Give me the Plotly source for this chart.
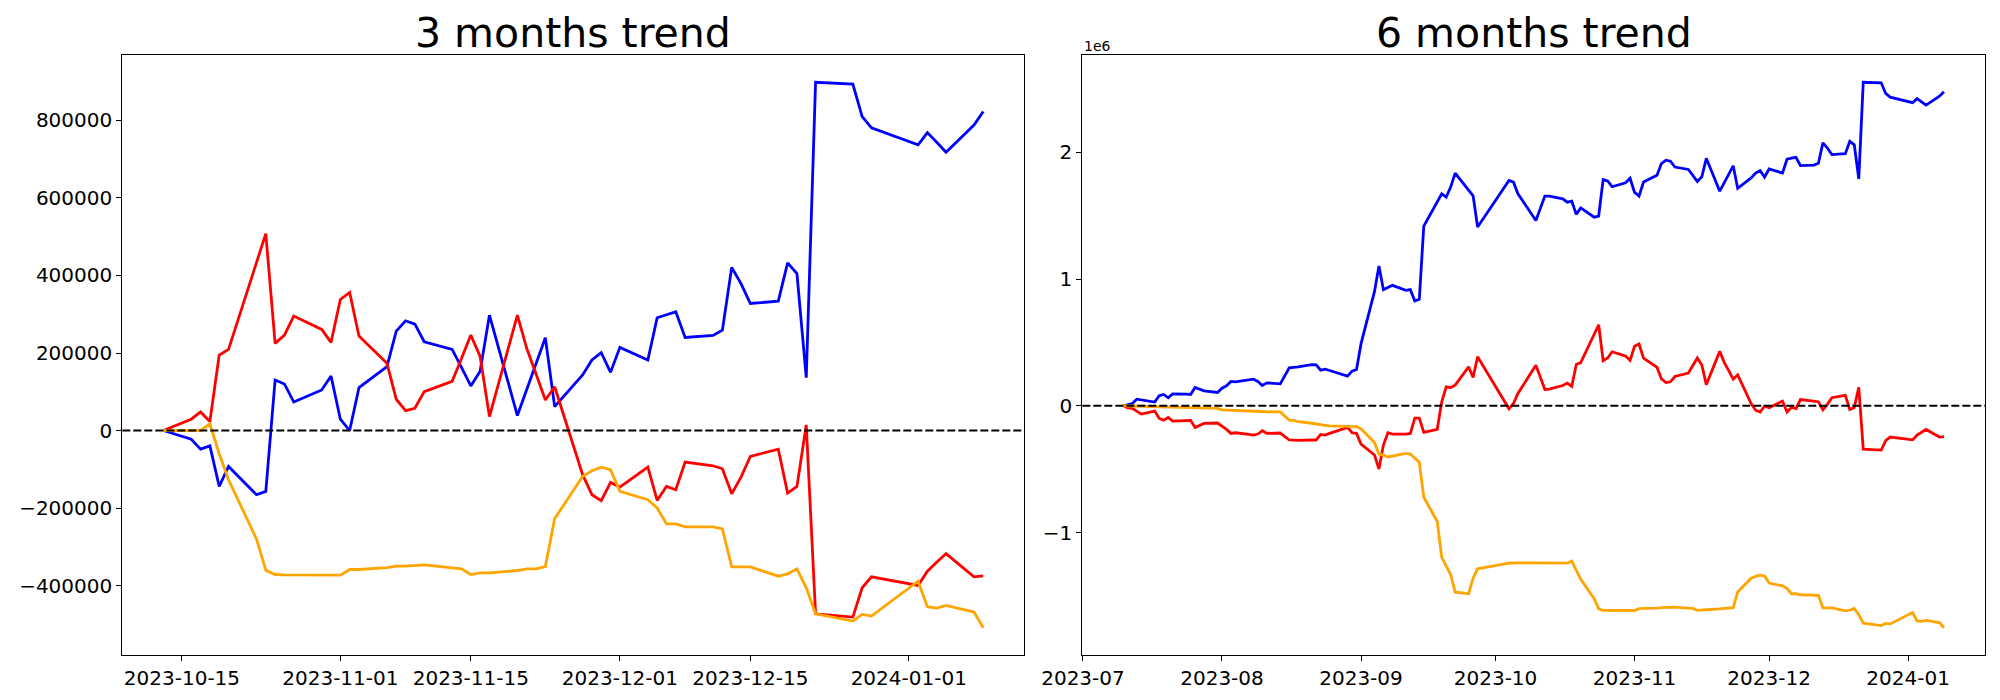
import pandas as pd
import plotly.graph_objects as go

# ---------------- data ----------------
dates_3m = [
    "2023-10-13", "2023-10-16", "2023-10-17", "2023-10-18", "2023-10-19", "2023-10-20",
    "2023-10-23", "2023-10-24", "2023-10-25", "2023-10-26", "2023-10-27", "2023-10-30", "2023-10-31",
    "2023-11-01", "2023-11-02", "2023-11-03", "2023-11-06", "2023-11-07", "2023-11-08", "2023-11-09",
    "2023-11-10", "2023-11-13", "2023-11-14", "2023-11-15", "2023-11-16", "2023-11-17", "2023-11-20",
    "2023-11-21", "2023-11-22", "2023-11-23", "2023-11-24", "2023-11-27", "2023-11-28", "2023-11-29",
    "2023-11-30",
    "2023-12-01", "2023-12-04", "2023-12-05", "2023-12-06", "2023-12-07", "2023-12-08", "2023-12-11",
    "2023-12-12", "2023-12-13", "2023-12-14", "2023-12-15", "2023-12-18", "2023-12-19", "2023-12-20",
    "2023-12-21", "2023-12-22", "2023-12-26", "2023-12-27", "2023-12-28",
    "2024-01-02", "2024-01-03", "2024-01-04", "2024-01-05", "2024-01-08", "2024-01-09",
]
blue_3m = [
    0, -22300, -48000, -39500, -144000, -92700, -165600, -157000, 130400, 120100, 73800, 104700, 140700,
    29200, 0, 110700, 164700, 256500, 283100, 274600, 229100, 209400, 163000, 115000, 153000, 297700,
    38600, 105500, 172500, 239400, 61800, 143300, 181900, 200800, 150200,
    214500, 181900, 290900, 298600, 306300, 240200, 245400, 259100, 420400, 379200, 327800, 333800,
    432400, 405000, 136400, 898500, 894000, 810000, 780800,
    737000, 768800, 743900, 718200, 788000, 823200,
]
red_3m = [
    0, 29200, 48000, 23200, 194800, 209400, 433300, 508000, 224800, 246200, 295200, 260800, 227400,
    338100, 356100, 243700, 173300, 80700, 51500, 57500, 100400, 127000, 186000, 246200, 191000, 36000,
    297700, 212000, 146000, 78900, 113000, -114000, -165600, -181000, -133800,
    -145900, -94400, -180200, -144100, -152700, -81500, -90900, -98700, -163000, -120100, -66900, -48000,
    -161300, -144100, 14600, -472800, -481300, -405800, -377500,
    -399800, -362900, -339800, -317500, -377500, -375000,
]
orange_3m = [
    0, 0, 0, 17200, -60000, -127000, -279700, -360400, -371500, -372400, -372400, -372400, -373200,
    -373200, -358600, -358600, -353500, -350100, -350100, -349300, -346600, -354400, -357000, -371500,
    -367200, -367200, -361200, -357000, -357000, -350900, -227400, -118400, -103800, -94400, -101200,
    -157000, -178500, -199900, -241100, -241100, -248800, -248800, -254000, -351800, -351800, -351800,
    -375800, -369800, -356900, -405800, -472800, -491600, -474500, -478800,
    -388700, -454700, -458200, -451300, -468400, -508800,
]

dates_early = [
    "2023-07-10", "2023-07-11", "2023-07-12", "2023-07-13", "2023-07-14", "2023-07-17", "2023-07-18",
    "2023-07-19", "2023-07-20", "2023-07-21", "2023-07-24", "2023-07-25", "2023-07-26", "2023-07-27",
    "2023-07-28", "2023-07-31",
    "2023-08-01", "2023-08-02", "2023-08-03", "2023-08-04", "2023-08-07", "2023-08-08", "2023-08-09",
    "2023-08-10", "2023-08-11", "2023-08-14", "2023-08-16", "2023-08-17", "2023-08-18", "2023-08-21",
    "2023-08-22", "2023-08-23", "2023-08-24", "2023-08-25", "2023-08-28", "2023-08-29", "2023-08-30",
    "2023-08-31",
    "2023-09-01", "2023-09-04", "2023-09-05", "2023-09-06", "2023-09-07", "2023-09-08", "2023-09-11",
    "2023-09-12", "2023-09-13", "2023-09-14", "2023-09-15", "2023-09-18", "2023-09-19", "2023-09-20",
    "2023-09-21", "2023-09-22", "2023-09-25", "2023-09-26", "2023-09-27",
    "2023-10-04", "2023-10-05", "2023-10-06", "2023-10-10", "2023-10-11", "2023-10-12",
]
dates_6m = dates_early + dates_3m

blue_6m = [
    0, 8000, 18000, 52000, 47000, 29000, 79000, 89000, 63000, 94000, 92000, 89000, 144000, 134000,
    118000, 105000,
    139000, 157000, 192000, 189000, 202000, 210000, 192000, 160000, 181000, 173000, 299000, 302000,
    307000, 325000, 322000, 281000, 289000, 278000, 244000, 234000, 273000, 286000,
    488000, 900000, 1102000, 916000, 933000, 950000, 911000, 916000, 827000, 840000, 1417000, 1612000,
    1672000, 1646000, 1725000, 1835000, 1701000, 1656000, 1410000,
    1777000, 1764000, 1672000, 1462000, 1567000, 1654000,
    1654000, 1632000, 1606000, 1614000, 1510000, 1561000, 1488000, 1497000, 1784000, 1774000, 1728000,
    1759000, 1795000,
    1683000, 1654000, 1765000, 1819000, 1911000, 1937000, 1929000, 1883000, 1864000, 1817000, 1769000,
    1807000, 1952000, 1693000, 1760000, 1827000, 1893000, 1716000, 1797000, 1836000, 1855000, 1804000,
    1868000, 1836000, 1945000, 1953000, 1960000, 1894000, 1899000, 1913000, 2074000, 2033000, 1982000,
    1988000, 2086000, 2059000, 1790000, 2552000, 2548000, 2464000, 2435000,
    2391000, 2423000, 2398000, 2372000, 2442000, 2477000,
]
red_6m = [
    0, -16000, -21000, -47000, -66000, -42000, -100000, -113000, -92000, -121000, -118000, -115000,
    -171000, -155000, -139000, -136000,
    -160000, -186000, -218000, -213000, -226000, -231000, -223000, -197000, -218000, -215000, -270000,
    -273000, -273000, -270000, -270000, -226000, -231000, -218000, -181000, -171000, -213000, -218000,
    -302000, -388000, -499000, -310000, -213000, -223000, -223000, -218000, -97000, -97000, -210000,
    -186000, 31000, 150000, 144000, 163000, 307000, 223000, 386000,
    -24000, 18000, 97000, 320000, 228000, 129000,
    131000, 160000, 179000, 154000, 326000, 340000, 564000, 639000, 356000, 377000, 426000, 392000, 358000,
    469000, 487000, 375000, 304000, 212000, 183000, 189000, 231000, 258000, 317000, 377000, 322000, 167000,
    429000, 343000, 277000, 210000, 244000, 17000, -35000, -50000, -3000,
    -15000, 37000, -49000, -13000, -22000, 49000, 40000, 32000, -32000, 11000, 64000, 83000, -30000,
    -13000, 146000, -342000, -350000, -275000, -247000,
    -269000, -232000, -209000, -187000, -247000, -244000,
]
orange_6m = [
    0, -1000, -1000, -2000, -3000, -4000, -5000, -6000, -8000, -9000, -11000, -13000, -15000, -17000,
    -19000, -21000,
    -33000, -35000, -37000, -38000, -40000, -42000, -44000, -46000, -47000, -48000, -113000, -116000,
    -126000, -138000, -145000, -150000, -155000, -158000, -161000, -162000, -164000, -165000,
    -182000, -289000, -381000, -389000, -404000, -396000, -375000, -381000, -410000, -446000, -722000,
    -913000, -1194000, -1268000, -1333000, -1470000, -1483000, -1360000, -1286000,
    -1242000, -1240000, -1240000, -1240000, -1240000, -1240000,
    -1242000, -1242000, -1242000, -1225000, -1302000, -1369000, -1522000, -1602000, -1614000, -1614000,
    -1614000, -1614000, -1615000,
    -1615000, -1601000, -1601000, -1596000, -1592000, -1592000, -1591000, -1589000, -1596000, -1599000,
    -1614000, -1609000, -1609000, -1603000, -1599000, -1599000, -1593000, -1469000, -1360000, -1346000,
    -1336000, -1343000,
    -1399000, -1421000, -1442000, -1483000, -1483000, -1491000, -1491000, -1496000, -1594000, -1594000,
    -1594000, -1618000, -1612000, -1599000, -1648000, -1715000, -1734000, -1717000, -1721000,
    -1631000, -1697000, -1700000, -1693000, -1710000, -1751000,
]

titles = ["3 months trend", "6 months trend"]
xticks_3m = ["2023-10-15", "2023-11-01", "2023-11-15", "2023-12-01", "2023-12-15", "2024-01-01"]
xticks_6m = ["2023-07-01", "2023-08-01", "2023-09-01", "2023-10-01", "2023-11-01", "2023-12-01", "2024-01-01"]
xticklabels_6m = ["2023-07", "2023-08", "2023-09", "2023-10", "2023-11", "2023-12", "2024-01"]
yticks_3m = [-400000, -200000, 0, 200000, 400000, 600000, 800000]
yticks_6m = [-1000000, 0, 1000000, 2000000]
yticklabels_6m = ["\u22121", "0", "1", "2"]
colors = ["#0000ff", "#ff0000", "#ffa500"]

# ---------------- helpers ----------------
W, H = 2000, 700
FONT = "DejaVu Sans"


def num_label(v):
    return ("\u2212" + str(abs(v))) if v < 0 else str(v)


def pad_num(series_list):
    lo = min(min(s) for s in series_list)
    hi = max(max(s) for s in series_list)
    span = hi - lo
    return [lo - 0.05 * span, hi + 0.05 * span]


def pad_dates(dates):
    d0 = pd.Timestamp(dates[0])
    d1 = pd.Timestamp(dates[-1])
    span = d1 - d0
    return [str(d0 - 0.05 * span), str(d1 + 0.05 * span)]


ax_l = [122.3 / W, 1024.3 / W]
ax_r = [1082.3 / W, 1985.0 / W]
ax_y = [1 - 655.0 / H, 1 - 55.0 / H]

fig = go.Figure()
for vals, c in zip([blue_3m, red_3m, orange_3m], colors):
    fig.add_trace(go.Scatter(x=dates_3m, y=vals, mode="lines", line=dict(color=c, width=2.8),
                             xaxis="x", yaxis="y", showlegend=False, hoverinfo="skip"))
for vals, c in zip([blue_6m, red_6m, orange_6m], colors):
    fig.add_trace(go.Scatter(x=dates_6m, y=vals, mode="lines", line=dict(color=c, width=2.8),
                             xaxis="x2", yaxis="y2", showlegend=False, hoverinfo="skip"))

axis_common = dict(showline=True, mirror=True, linecolor="black", linewidth=1.1,
                   ticks="outside", ticklen=5, tickwidth=1.1, tickcolor="black",
                   showgrid=False, zeroline=False, automargin=False,
                   tickfont=dict(family=FONT, size=20, color="black"))

fig.update_layout(
    template="none",
    width=W, height=H, autosize=False,
    margin=dict(l=0, r=0, t=0, b=0, pad=0),
    paper_bgcolor="white", plot_bgcolor="white",
    xaxis=dict(domain=ax_l, type="date", range=pad_dates(dates_3m), anchor="y",
               tickmode="array", tickvals=xticks_3m, ticktext=xticks_3m, **axis_common),
    yaxis=dict(domain=ax_y, range=pad_num([blue_3m, red_3m, orange_3m]), anchor="x",
               tickmode="array", tickvals=yticks_3m, ticktext=[num_label(v) for v in yticks_3m],
               **axis_common),
    xaxis2=dict(domain=ax_r, type="date", range=pad_dates(dates_6m), anchor="y2",
                tickmode="array", tickvals=xticks_6m, ticktext=xticklabels_6m, **axis_common),
    yaxis2=dict(domain=ax_y, range=pad_num([blue_6m, red_6m, orange_6m]), anchor="x2",
                tickmode="array", tickvals=yticks_6m, ticktext=yticklabels_6m, **axis_common),
)

for xr, yr in [("x domain", "y"), ("x2 domain", "y2")]:
    fig.add_shape(type="line", xref=xr, yref=yr, x0=0, x1=1, y0=0, y1=0,
                  line=dict(color="black", width=2, dash="8px,3px"), layer="above")

for dom, t in zip([ax_l, ax_r], titles):
    fig.add_annotation(text=t, xref="paper", yref="paper", x=(dom[0] + dom[1]) / 2,
                       y=ax_y[1], yanchor="bottom", xanchor="center", yshift=-4,
                       showarrow=False, font=dict(family=FONT, size=41, color="black"))

fig.add_annotation(text="1e6", xref="paper", yref="paper", x=ax_r[0], y=1 - 46.0 / H,
                   xanchor="left", yanchor="middle", showarrow=False,
                   font=dict(family=FONT, size=14, color="black"))

fig.write_html("out.html", config={"displayModeBar": False},
               post_script="document.body.style.margin='0';document.body.style.overflow='hidden';")
